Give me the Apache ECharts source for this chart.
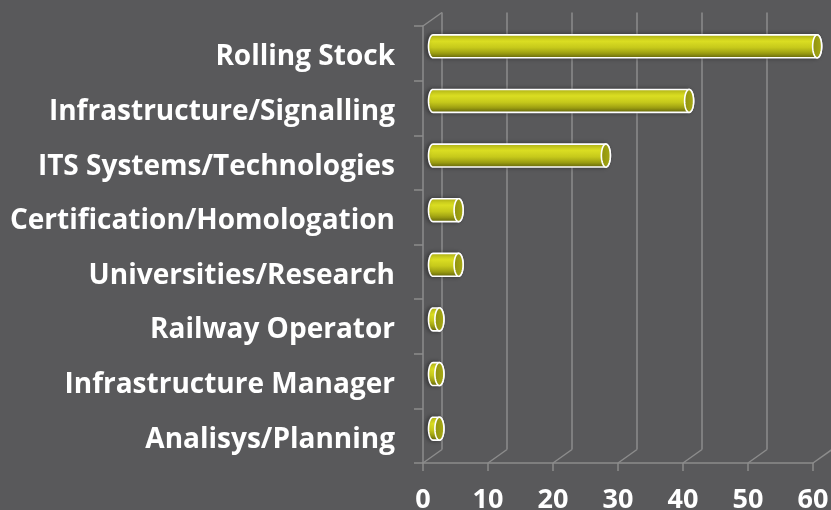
<!DOCTYPE html>
<html>
<head>
<meta charset="utf-8">
<script src="https://cdn.jsdelivr.net/npm/echarts@6/dist/echarts.min.js"></script>
<style>
html,body{margin:0;padding:0;background:#59595b;}
#chart{width:831px;height:510px;}
</style>
</head>
<body>
<div id="chart"></div>
<script>
const categories = [
  'Rolling Stock',
  'Infrastructure/Signalling',
  'ITS Systems/Technologies',
  'Certification/Homologation',
  'Universities/Research',
  'Railway Operator',
  'Infrastructure Manager',
  'Analisys/Planning'
];
const values = [60, 40, 27, 4, 4, 1, 1, 1];
const xTicks = [0, 10, 20, 30, 40, 50, 60];

const AXIS_COLOR = '#8c8c8c';
const FONT = 'Open Sans';
const DEPTH_X = 19, DEPTH_Y = -13.5;

const chart = echarts.init(document.getElementById('chart'), null, {renderer: 'canvas'});

function ellipsePts(cx, cy, rx, ry, a0, a1, n) {
  const pts = [];
  for (let i = 0; i <= n; i++) {
    const a = a0 + (a1 - a0) * i / n;
    pts.push([cx + rx * Math.cos(a), cy + ry * Math.sin(a)]);
  }
  return pts;
}

const bodyGradient = {
  type: 'linear', x: 0, y: 0, x2: 0, y2: 1,
  colorStops: [
    {offset: 0, color: '#c2c41a'},
    {offset: 0.3, color: '#dadd22'},
    {offset: 0.55, color: '#c6c91b'},
    {offset: 0.8, color: '#9a9c12'},
    {offset: 1, color: '#6a6c0c'}
  ]
};
const capGradient = {
  type: 'linear', x: 0, y: 0, x2: 1, y2: 0,
  colorStops: [
    {offset: 0, color: '#8e900f'},
    {offset: 1, color: '#a8ab14'}
  ]
};

function renderBar(params, api) {
  const v = api.value(0);
  const idx = api.value(1);
  const c0 = api.coord([0, idx]);
  const c1 = api.coord([v, idx]);
  const band = api.size([0, 1])[1];
  const ry = band * 0.21;
  const rx = 4.5;
  const x0 = c0[0] + 10;
  const x1 = x0 + (c1[0] - c0[0]) * 0.985;
  const cy = c0[1] - 7;
  const top = cy - ry, bot = cy + ry;
  const body = [];
  body.push([x0, top], [x1, top]);
  ellipsePts(x1, cy, rx, ry, -Math.PI / 2, Math.PI / 2, 24).forEach(p => body.push(p));
  body.push([x0, bot]);
  ellipsePts(x0, cy, rx, ry, Math.PI / 2, Math.PI * 1.5, 24).forEach(p => body.push(p));
  const cap = ellipsePts(x1, cy, rx, ry, 0, Math.PI * 2, 48);
  return {
    type: 'group',
    children: [
      {type: 'polygon', shape: {points: body},
       style: {fill: bodyGradient, stroke: '#ffffff', lineWidth: 1.6,
                shadowBlur: 4, shadowColor: 'rgba(0,0,0,0.35)', shadowOffsetX: -2}},
      {type: 'polygon', shape: {points: cap},
       style: {fill: capGradient, stroke: '#ffffff', lineWidth: 1.6}}
    ]
  };
}

function renderFloor(params, api) {
  const cs = params.coordSys;
  const v = api.value(0);
  const type = api.value(1);
  let x, y;
  if (type === 0) {
    x = api.coord([v, 0])[0];
    y = cs.y + cs.height;
  } else {
    x = cs.x;
    y = cs.y;
  }
  return {
    type: 'line',
    shape: {x1: x, y1: y, x2: x + DEPTH_X, y2: y + DEPTH_Y},
    style: {stroke: AXIS_COLOR, lineWidth: 1.5}
  };
}

const floorData = xTicks.map(t => [t, 0]).concat([[0, 1]]);

const option = {
  backgroundColor: '#59595b',
  animation: false,
  grid: [
    {left: 423, top: 26, width: 390, height: 437, outerBoundsMode: 'none', containLabel: false},
    {left: 423 + DEPTH_X, top: 26 + DEPTH_Y, width: 390, height: 437, outerBoundsMode: 'none', containLabel: false}
  ],
  xAxis: [
    {
      gridIndex: 0, type: 'value', min: 0, max: 60, interval: 10,
      axisLine: {show: true, lineStyle: {color: AXIS_COLOR, width: 1.5}},
      axisTick: {show: true, length: 8, lineStyle: {color: AXIS_COLOR, width: 1.5}},
      splitLine: {show: false},
      axisLabel: {color: '#ffffff', fontFamily: FONT, fontWeight: 'bold', fontSize: 27, margin: 24}
    },
    {
      gridIndex: 1, type: 'value', min: 0, max: 60, interval: 10,
      axisLine: {show: false}, axisTick: {show: false}, axisLabel: {show: false},
      splitLine: {show: true, lineStyle: {color: AXIS_COLOR, width: 1.5}}
    }
  ],
  yAxis: [
    {
      gridIndex: 0, type: 'category', data: categories, inverse: true,
      axisLine: {show: true, lineStyle: {color: AXIS_COLOR, width: 1.5}},
      axisTick: {show: true, length: 9, lineStyle: {color: AXIS_COLOR, width: 1.5}},
      splitLine: {show: false},
      axisLabel: {
        margin: 28,
        formatter: function (v) { return '{a|' + v + '}'; },
        rich: {
          a: {color: '#ffffff', fontFamily: FONT, fontWeight: 'bold', fontSize: 28,
              padding: [8, 0, 0, 0]}
        }
      }
    },
    {
      gridIndex: 1, type: 'category', data: categories, inverse: true,
      show: false
    }
  ],
  series: [
    {
      type: 'custom', xAxisIndex: 0, yAxisIndex: 0,
      renderItem: renderFloor, data: floorData, silent: true, z: 1
    },
    {
      type: 'custom', xAxisIndex: 0, yAxisIndex: 0,
      renderItem: renderBar,
      data: values.map((v, i) => [v, i]),
      z: 5
    },
    {
      type: 'custom', xAxisIndex: 1, yAxisIndex: 1,
      renderItem: function () { return null; }, data: []
    }
  ]
};
chart.setOption(option);
</script>
</body>
</html>
